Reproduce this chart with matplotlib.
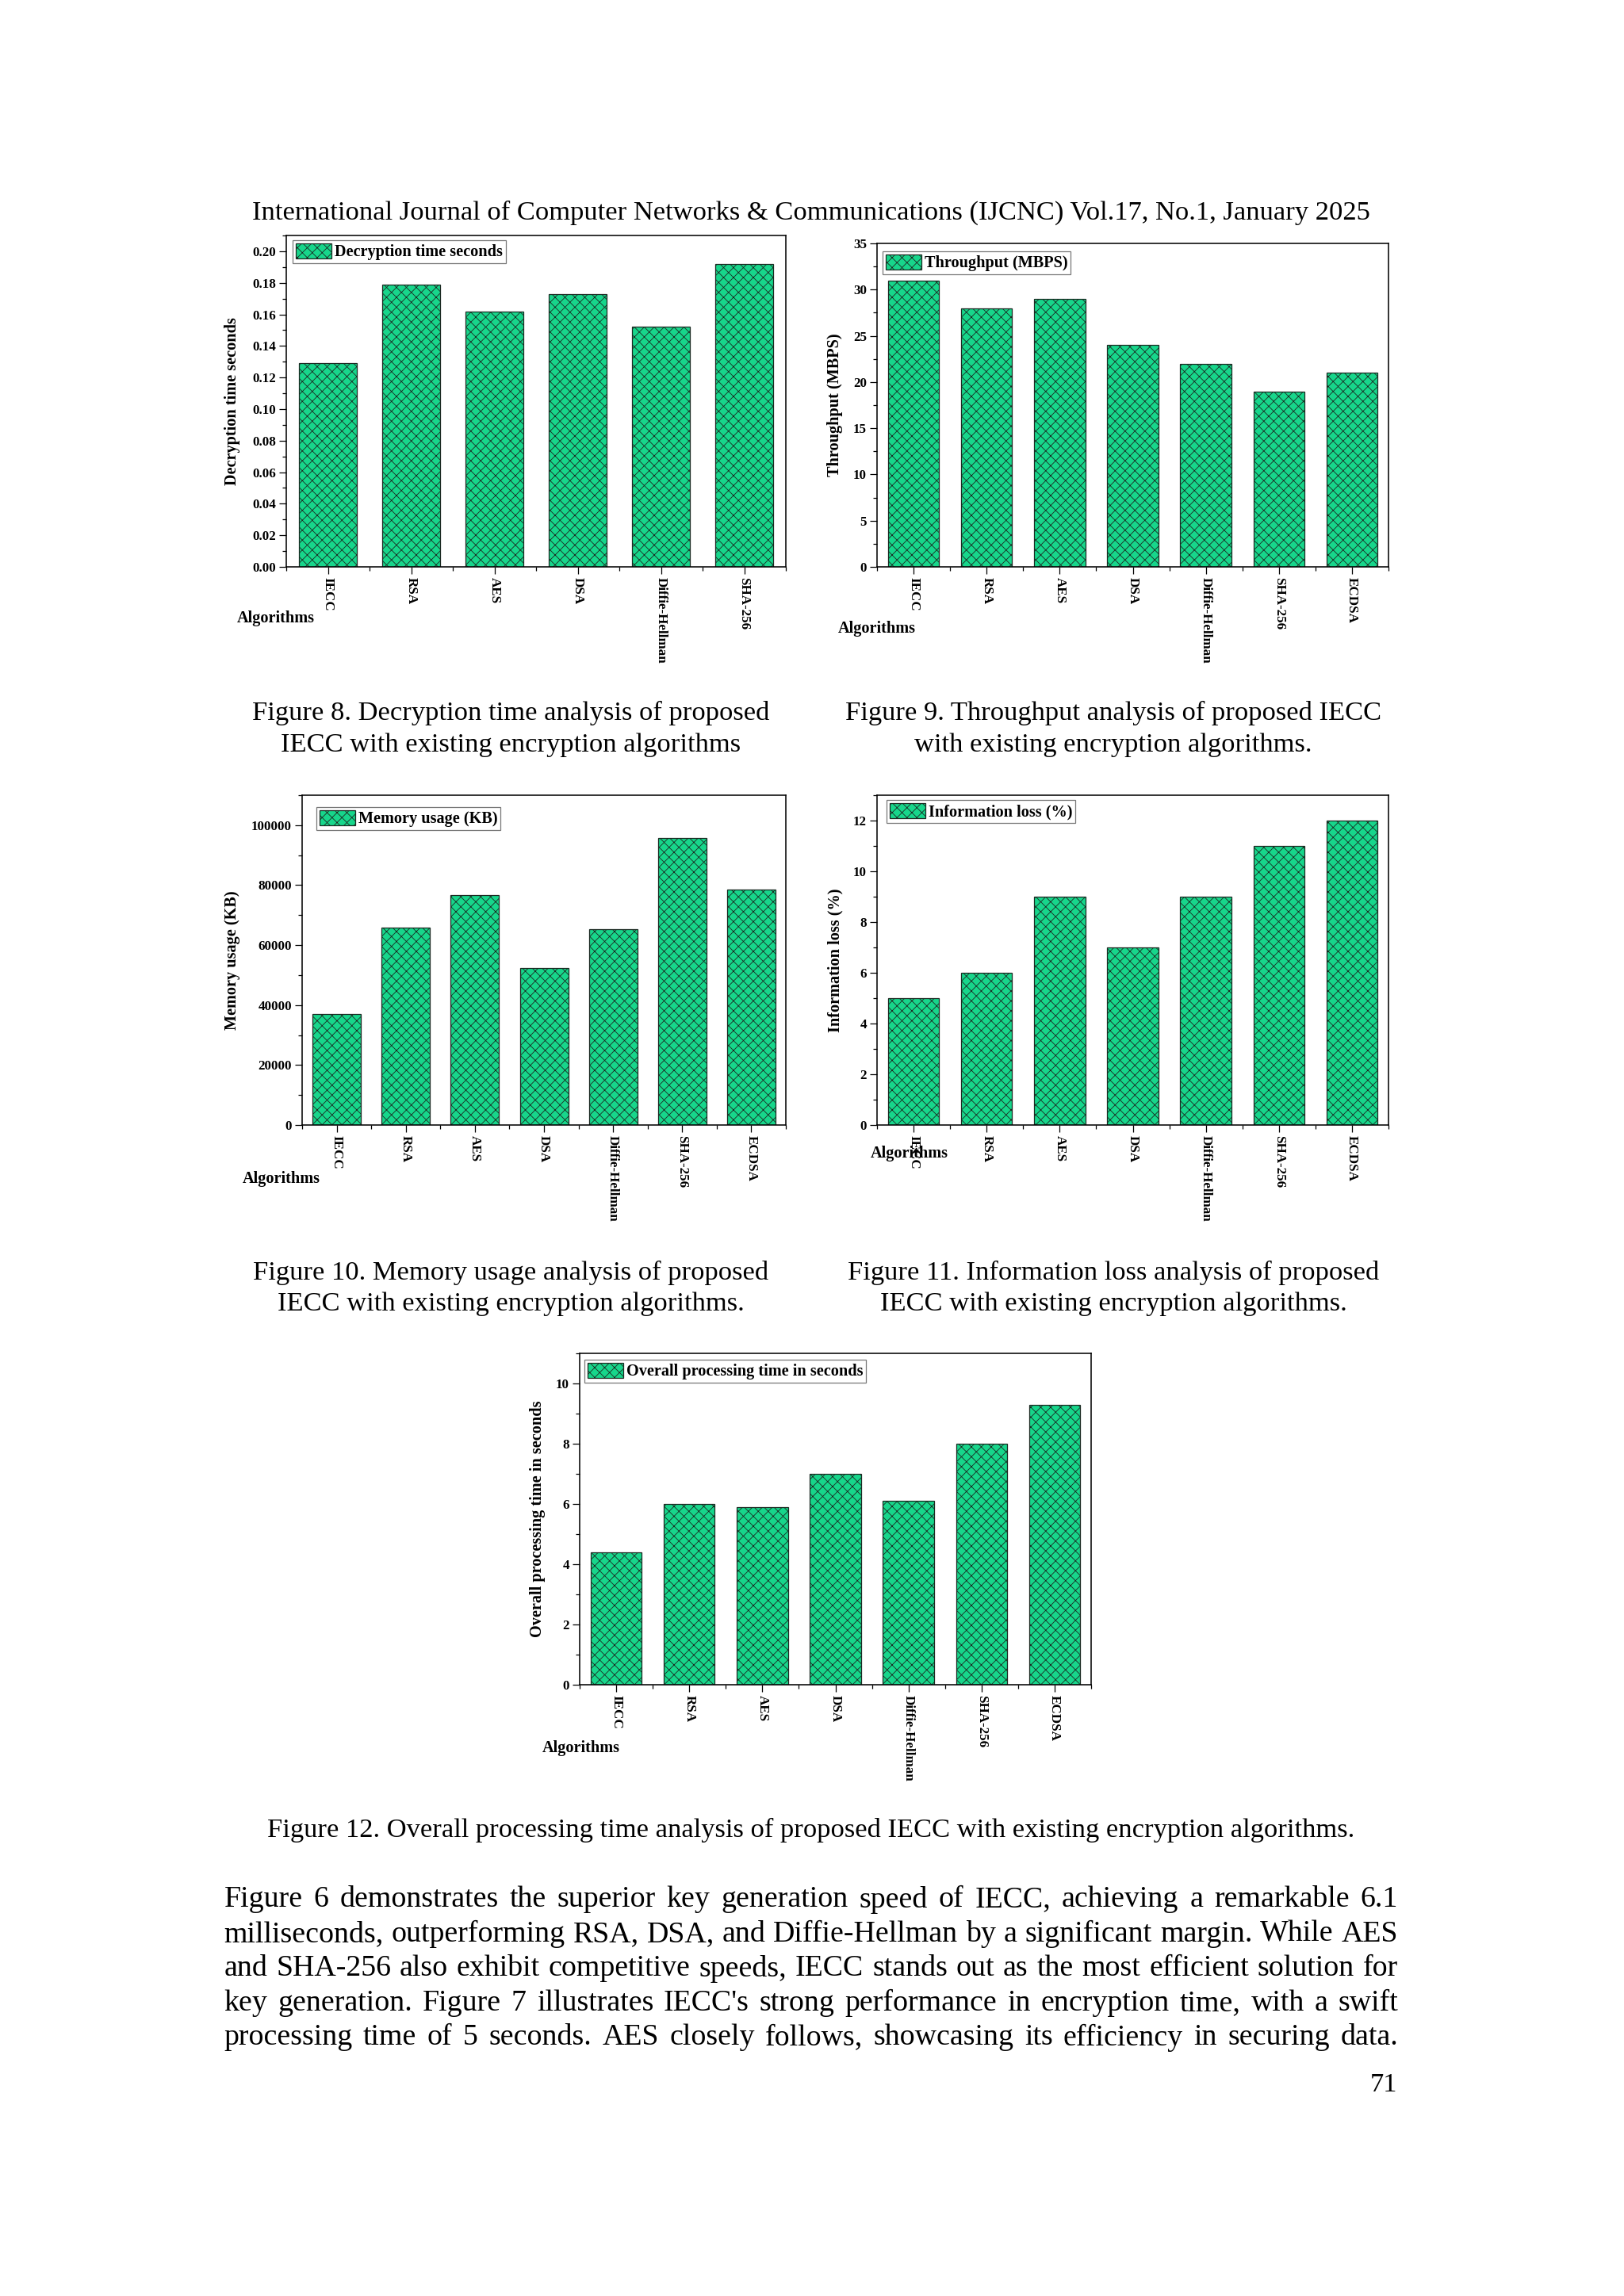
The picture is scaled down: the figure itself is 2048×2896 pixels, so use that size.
import matplotlib
matplotlib.use("Agg")
import matplotlib.pyplot as plt
from matplotlib.ticker import MultipleLocator, FormatStrFormatter

# page geometry (pixels of the 2048x2896 page)
W, H = 2048, 2896
DPI = 150


def pt(px):
    # pixel size -> points at the figure dpi
    return px * 72.0 / DPI


# ---- data ----
algos6 = ['IECC', 'RSA', 'AES', 'DSA', 'Diffie-Hellman', 'SHA-256']
algos7 = ['IECC', 'RSA', 'AES', 'DSA', 'Diffie-Hellman', 'SHA-256', 'ECDSA']

decrypt_time = [0.129, 0.179, 0.162, 0.173, 0.152, 0.192]
throughput = [31, 28, 29, 24, 22, 19, 21]
memory_kb = [37000, 65900, 76700, 52400, 65400, 95700, 78600]
info_loss = [5, 6, 9, 7, 9, 11, 12]
processing_time = [4.4, 6.0, 5.9, 7.0, 6.1, 8.0, 9.3]

header = "International Journal of Computer Networks & Communications (IJCNC) Vol.17, No.1, January 2025"
captions = [
    ("Figure 8. Decryption time analysis of proposed", 644, 899),
    ("IECC with existing encryption algorithms", 644, 940),
    ("Figure 9. Throughput analysis of proposed IECC", 1404, 899),
    ("with existing encryption algorithms.", 1404, 940),
    ("Figure 10. Memory usage analysis of proposed", 644, 1605),
    ("IECC with existing encryption algorithms.", 644, 1645),
    ("Figure 11. Information loss analysis of proposed", 1404, 1605),
    ("IECC with existing encryption algorithms.", 1404, 1645),
    ("Figure 12. Overall processing time analysis of proposed IECC with existing encryption algorithms.", 1023, 2308),
]
body_lines = [
    "Figure 6 demonstrates the superior key generation speed of IECC, achieving a remarkable 6.1",
    "milliseconds, outperforming RSA, DSA, and Diffie-Hellman by a significant margin. While AES",
    "and SHA-256 also exhibit competitive speeds, IECC stands out as the most efficient solution for",
    "key generation. Figure 7 illustrates IECC's strong performance in encryption time, with a swift",
    "processing time of 5 seconds. AES closely follows, showcasing its efficiency in securing data.",
]

SERIF = 'Liberation Serif'
plt.rcParams['font.family'] = SERIF
plt.rcParams['hatch.linewidth'] = 0.4

PAGE_FS = pt(34.5)
TICK_FS = pt(17)
LABEL_FS = pt(20.3)

BAR_COLOR = '#17D68B'
EDGE_COLOR = '#1b2a22'

fig = plt.figure(figsize=(W / DPI, H / DPI), dpi=DPI)
fig.patch.set_facecolor('white')


def draw_chart(box, labels, values, ylabel, leg_label, ylim, major, minor, fmt,
               leg_box, xlab_pos, ylab_x):
    left, right, top, bottom = box
    aw, ah = right - left, bottom - top
    ax = fig.add_axes([left / W, 1 - bottom / H, aw / W, ah / H])
    x = list(range(len(labels)))
    ax.bar(x, values, width=0.7, color=BAR_COLOR, edgecolor=EDGE_COLOR,
           linewidth=0.6, hatch='xxxx', label=leg_label)
    ax.set_xlim(-0.5, len(labels) - 0.5)
    ax.set_ylim(*ylim)
    ax.set_xticks(x)
    ax.set_xticklabels(labels, rotation=270, fontsize=TICK_FS, fontweight='bold')
    ax.xaxis.set_minor_locator(MultipleLocator(1, offset=0.5))
    ax.yaxis.set_major_locator(MultipleLocator(major))
    ax.yaxis.set_minor_locator(MultipleLocator(minor))
    ax.yaxis.set_major_formatter(FormatStrFormatter(fmt))
    for t in ax.get_yticklabels():
        t.set_fontweight('bold')
        t.set_fontsize(TICK_FS)
    ax.tick_params(which='major', direction='out', length=pt(9), width=0.6, pad=pt(4))
    ax.tick_params(which='minor', direction='out', length=pt(5), width=0.6)
    ax.tick_params(axis='x', which='major', pad=pt(4))
    for s in ax.spines.values():
        s.set_linewidth(0.75)
    ax.set_ylabel(ylabel, fontsize=LABEL_FS, fontweight='bold')
    ax.yaxis.set_label_coords((ylab_x - left) / aw, 0.5)
    fig.text(xlab_pos[0] / W, 1 - xlab_pos[1] / H, 'Algorithms', fontsize=LABEL_FS,
             fontweight='bold', ha='left', va='center')
    bl, br, bt, bb = leg_box
    leg = ax.legend(loc='upper left', bbox_to_anchor=((bl - left) / aw, (bottom - bt) / ah),
                    borderaxespad=0, borderpad=0.2, handlelength=2.2, handleheight=1.05,
                    handletextpad=0.2, fancybox=False, framealpha=1,
                    prop={'family': SERIF, 'weight': 'bold', 'size': LABEL_FS})
    leg.get_frame().set_edgecolor('#777777')
    leg.get_frame().set_linewidth(0.6)
    return ax


draw_chart((361, 991, 297, 715), algos6, decrypt_time, 'Decryption time seconds',
           'Decryption time seconds', (0, 0.21), 0.02, 0.01, '%.2f',
           (369, 638, 303, 332), (299, 780), 303)
draw_chart((1106, 1751, 307, 715), algos7, throughput, 'Throughput (MBPS)',
           'Throughput (MBPS)', (0, 35), 5, 2.5, '%d',
           (1113, 1351, 317, 347), (1057, 793), 1063)
draw_chart((381, 991, 1003, 1419), algos7, memory_kb, 'Memory usage (KB)',
           'Memory usage (KB)', (0, 110000), 20000, 10000, '%d',
           (399, 634, 1018, 1046), (306, 1487), 303)
draw_chart((1106, 1751, 1003, 1419), algos7, info_loss, 'Information loss (%)',
           'Information loss (%)', (0, 13), 2, 1, '%d',
           (1118, 1356, 1009, 1038), (1098, 1455), 1063)
draw_chart((731, 1376, 1707, 2125), algos7, processing_time, 'Overall processing time in seconds',
           'Overall processing time in seconds', (0, 11), 2, 1, '%d',
           (737, 1094, 1715, 1745), (684, 2205), 688)

# ---- page text ----
fig.text(1023 / W, 1 - 268 / H, header, fontsize=PAGE_FS, ha='center', va='center')
for txt, cx, cy in captions:
    fig.text(cx / W, 1 - cy / H, txt, fontsize=PAGE_FS, ha='center', va='center')

# justified body paragraph; font sized so the widest line just fits
renderer = fig.canvas.get_renderer()
x0, x1 = 282.5, 1763.0
probe_fs = PAGE_FS
scales = []
for line in body_lines:
    t = fig.text(0, 0, line, fontsize=probe_fs)
    scales.append((x1 - x0) / t.get_window_extent(renderer).width)
    t.remove()
body_fs = probe_fs * min(scales) * 0.995

y = 2396
for line in body_lines:
    words = line.split()
    objs = [fig.text(0, 1 - y / H, w, fontsize=body_fs, ha='left', va='center') for w in words]
    widths = [o.get_window_extent(renderer).width for o in objs]
    gap = (x1 - x0 - sum(widths)) / (len(words) - 1)
    xp = x0
    for o, wd in zip(objs, widths):
        o.set_x(xp / W)
        xp += wd + gap
    y += 43.5

fig.text(1762 / W, 1 - 2630 / H, '71', fontsize=PAGE_FS, ha='right', va='center')

fig.savefig('out.png', dpi=DPI)
